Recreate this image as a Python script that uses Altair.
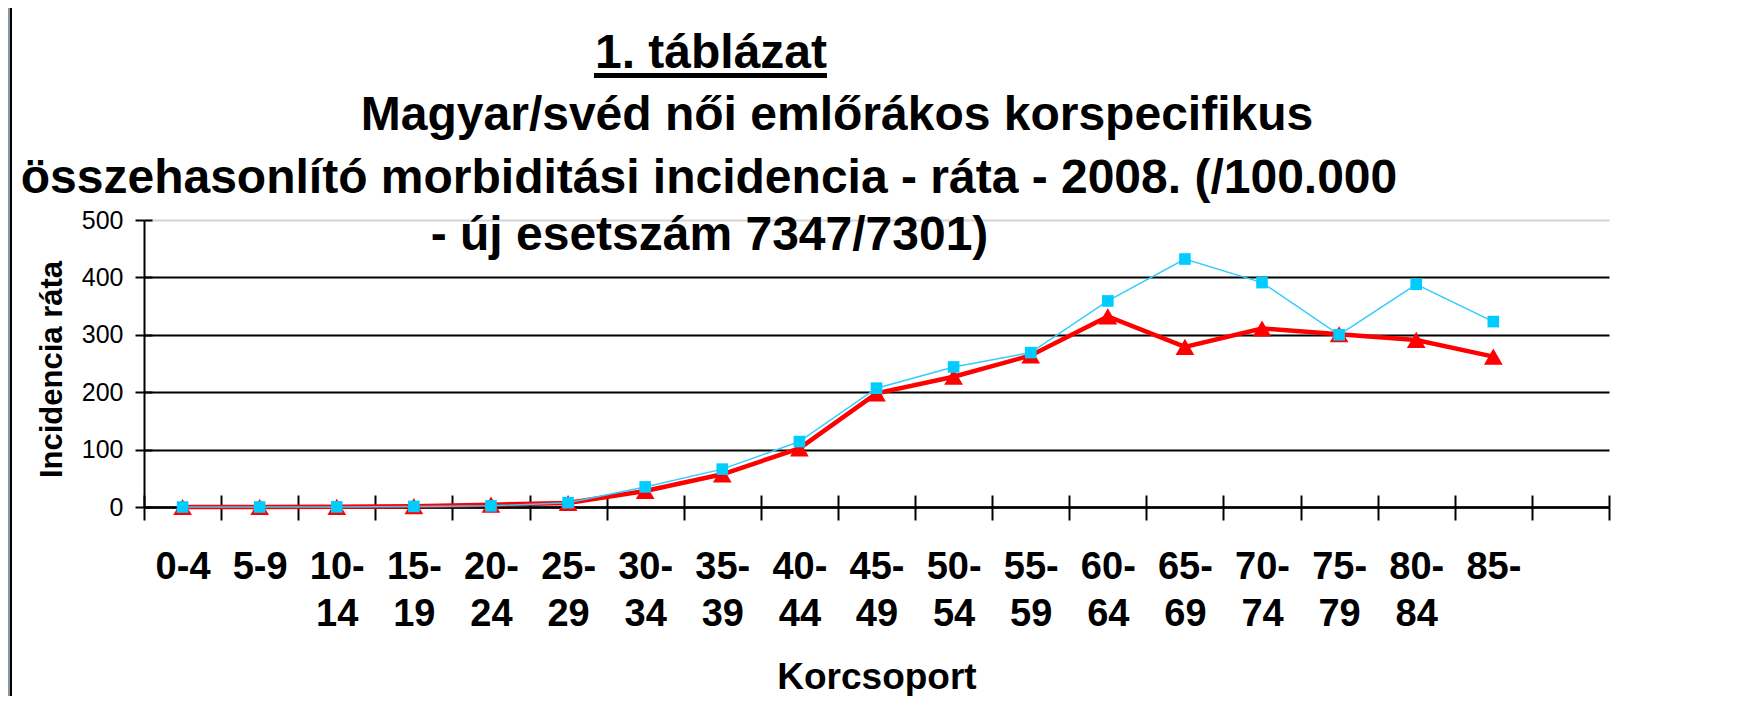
import altair as alt
import pandas as pd

# ---- data ----
AGE_GROUPS = ["0-4", "5-9", "10-14", "15-19", "20-24", "25-29", "30-34", "35-39",
              "40-44", "45-49", "50-54", "55-59", "60-64", "65-69", "70-74",
              "75-79", "80-84", "85-"]
EXTRA_SLOT = [""]  # empty last category slot on the axis
MAGYAR = [0, 0, 0.3, 1.5, 4, 7, 28, 57, 102, 198, 227, 264, 332, 279, 311, 301, 291, 262]
SVED = [0, 0, 0.2, 1, 2, 7.5, 35, 66, 114, 207, 244, 269, 359, 432, 391, 300, 388, 323]

TITLE_LINES = [
    "1. táblázat",
    "Magyar/svéd női emlőrákos korspecifikus",
    "összehasonlító morbiditási incidencia - ráta - 2008. (/100.000",
    "- új esetszám 7347/7301)",
]
X_TITLE = "Korcsoport"
Y_TITLE = "Incidencia ráta"
Y_TICKS = [0, 100, 200, 300, 400, 500]

FONT = "Liberation Sans"
W, H = 1465, 287

hun = pd.DataFrame({"age": AGE_GROUPS, "v": MAGYAR})
swe = pd.DataFrame({"age": AGE_GROUPS, "v": SVED})

x_scale = alt.Scale(domain=AGE_GROUPS + EXTRA_SLOT, type="band", paddingInner=0, paddingOuter=0)
y_scale = alt.Scale(domain=[0, 500])

label_expr = ("length(datum.label) > 3 ? [slice(datum.label, 0, indexof(datum.label, '-') + 1), "
              "slice(datum.label, indexof(datum.label, '-') + 1)] : datum.label")

x_main = alt.Axis(
    orient="bottom", title=X_TITLE, labelExpr=label_expr, labelAngle=0,
    labelFont=FONT, labelFontWeight="bold", labelFontSize=38, labelColor="black",
    labelBaseline="alphabetic", labelLineHeight=47, labelPadding=58,
    tickBand="extent", tickSize=13, tickWidth=2, tickColor="black",
    domainColor="black", domainWidth=2.5, grid=False,
    titleFont=FONT, titleFontWeight="bold", titleFontSize=37, titleColor="black",
    titleBaseline="alphabetic", titleY=181, titleX=W / 2,
)
x_ticks_up = alt.Axis(
    orient="top", offset=-H, title="", labels=False, domain=False, grid=False,
    tickBand="extent", tickSize=12, tickWidth=2, tickColor="black",
)
y_main = alt.Axis(
    orient="left", title=Y_TITLE, values=Y_TICKS,
    labelFont=FONT, labelFontSize=25, labelColor="black", labelPadding=12,
    tickSize=9, tickWidth=2, tickColor="black",
    domainColor="black", domainWidth=2,
    grid=True, gridWidth=2,
    gridColor=alt.condition("datum.value === 500", alt.value("#d4d4d4"), alt.value("black")),
    titleFont=FONT, titleFontWeight="bold", titleFontSize=31, titleColor="black",
    titleAngle=270, titleAlign="center", titleBaseline="alphabetic",
    titleX=-83, titleY=149,
)
y_ticks_in = alt.Axis(
    orient="right", offset=-W, title="", values=Y_TICKS, labels=False, domain=False,
    grid=False, tickSize=8, tickWidth=2, tickColor="black",
)

red_line = alt.Chart(hun).mark_line(color="#FF0000", strokeWidth=4.5).encode(
    x=alt.X("age:N", scale=x_scale, axis=x_main, sort=None),
    y=alt.Y("v:Q", scale=y_scale, axis=y_main),
)
red_pts = alt.Chart(hun).mark_point(shape="triangle-up", filled=True, color="#FF0000",
                                    size=350, opacity=1).encode(
    x=alt.X("age:N", scale=x_scale, axis=x_ticks_up, sort=None),
    y=alt.Y("v:Q", scale=y_scale, axis=y_ticks_in),
)
blue_line = alt.Chart(swe).mark_line(color="#33CCFF", strokeWidth=1.5).encode(
    x=alt.X("age:N", scale=x_scale, axis=None, sort=None),
    y=alt.Y("v:Q", scale=y_scale, axis=None),
)
blue_pts = alt.Chart(swe).mark_point(shape="square", filled=True, color="#00CCFF",
                                     size=135, opacity=1).encode(
    x=alt.X("age:N", scale=x_scale, axis=None, sort=None),
    y=alt.Y("v:Q", scale=y_scale, axis=None),
)

title_pos = [(567, -152), (693, -90), (565, -27.5), (565.5, 30)]
texts = []
for line, (tx, ty) in zip(TITLE_LINES, title_pos):
    texts.append(
        alt.Chart(pd.DataFrame({"t": [line]})).mark_text(
            font=FONT, fontWeight="bold", fontSize=48, color="black",
            align="center", baseline="alphabetic",
        ).encode(text="t:N", x=alt.value(tx), y=alt.value(ty))
    )

underline = alt.Chart(pd.DataFrame({"k": [0]})).mark_rule(color="black", strokeWidth=5).encode(
    x=alt.value(450), x2=alt.value(683), y=alt.value(-144.5)
)
frame_gray = alt.Chart(pd.DataFrame({"k": [0]})).mark_rect(color="#8796a3").encode(
    x=alt.value(-136), x2=alt.value(-134), y=alt.value(-212), y2=alt.value(476)
)
frame_black = alt.Chart(pd.DataFrame({"k": [0]})).mark_rect(color="black").encode(
    x=alt.value(-134), x2=alt.value(-132), y=alt.value(-212), y2=alt.value(476)
)

chart = alt.layer(
    frame_gray, frame_black, red_line, red_pts, blue_line, blue_pts, underline, *texts
).resolve_axis(x="independent", y="independent").properties(
    width=W, height=H, autosize="none",
    padding={"left": 136, "top": 212, "right": 131, "bottom": 189},
    background="white",
).configure_view(strokeWidth=0)

chart.save("out.html", embed_options={"renderer": "svg", "actions": False})
